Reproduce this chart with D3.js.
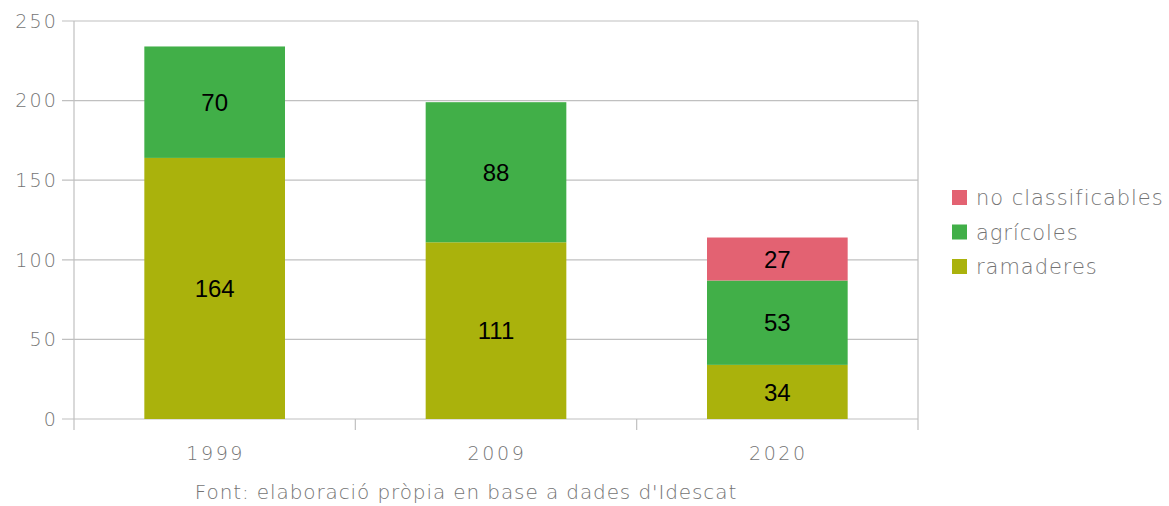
<!DOCTYPE html>
<html><head><meta charset="utf-8">
<script src="https://cdn.jsdelivr.net/npm/d3@7"></script>
<style>body{margin:0;background:#fff}svg{display:block}</style>
</head><body>
<svg id="c" width="1169" height="506"></svg>
<script>
const categories = ["1999", "2009", "2020"];
const seriesNames = ["ramaderes", "agrícoles", "no classificables"];
const ramaderes = [164, 111, 34];
const agricoles = [70, 88, 53];
const noClassificables = [0, 0, 27];
const yTicks = [0, 50, 100, 150, 200, 250];
const colors = ["#aab20c", "#41af48", "#e36272"];
const source = "Font: elaboració pròpia en base a dades d'Idescat";

const svg = d3.select("#c");
const m = {l: 74, r: 918, t: 21, b: 419};
const x = d3.scaleBand().domain(categories).range([m.l, m.r]).paddingInner(0.5).paddingOuter(0.25);
const y = d3.scaleLinear().domain([0, 250]).range([m.b, m.t]);
const gridCol = "#c0c0c0";
const textCol = "#747474";
const lightFont = "'DejaVu Sans', sans-serif";

// grid
svg.append("g").selectAll("line").data(yTicks).join("line")
  .attr("x1", m.l - 12).attr("x2", m.r).attr("y1", d => y(d)).attr("y2", d => y(d))
  .attr("stroke", gridCol).attr("stroke-width", 1.2);
svg.append("line").attr("x1", m.l).attr("x2", m.l).attr("y1", m.t).attr("y2", m.b + 11).attr("stroke", gridCol).attr("stroke-width", 1.2);
svg.append("line").attr("x1", m.r).attr("x2", m.r).attr("y1", m.t).attr("y2", m.b + 11).attr("stroke", gridCol).attr("stroke-width", 1.2);
const step = (m.r - m.l) / categories.length;
svg.append("g").selectAll("line").data(d3.range(1, categories.length)).join("line")
  .attr("x1", d => m.l + d * step).attr("x2", d => m.l + d * step)
  .attr("y1", m.b).attr("y2", m.b + 11).attr("stroke", gridCol).attr("stroke-width", 1.2);

// y tick labels
svg.append("g").selectAll("text").data(yTicks).join("text")
  .attr("x", 58).attr("y", d => y(d)).attr("dy", "0.36em").attr("text-anchor", "end")
  .attr("font-family", lightFont).attr("font-weight", 200).attr("font-size", 19).attr("fill", textCol)
  .attr("letter-spacing", 2.2)
  .text(d => d);

// x labels
svg.append("g").selectAll("text").data(categories).join("text")
  .attr("x", d => x(d) + x.bandwidth() / 2 + 1).attr("y", 460).attr("text-anchor", "middle")
  .attr("font-family", lightFont).attr("font-weight", 200).attr("font-size", 19).attr("fill", textCol)
  .attr("letter-spacing", 2.6)
  .text(d => d);

// stacked bars
const rows = categories.map((c, i) => ({cat: c, "ramaderes": ramaderes[i], "agrícoles": agricoles[i], "no classificables": noClassificables[i]}));
const stack = d3.stack().keys(seriesNames)(rows);
stack.forEach((s, si) => {
  const g = svg.append("g");
  s.forEach(d => {
    const v = d[1] - d[0];
    if (v <= 0) return;
    g.append("rect").attr("x", x(d.data.cat)).attr("width", x.bandwidth())
      .attr("y", y(d[1])).attr("height", y(d[0]) - y(d[1])).attr("fill", colors[si]);
    g.append("text").attr("x", x(d.data.cat) + x.bandwidth() / 2).attr("y", (y(d[0]) + y(d[1])) / 2)
      .attr("dy", "0.36em").attr("text-anchor", "middle")
      .attr("font-family", "'Liberation Sans', Arial, sans-serif").attr("font-size", 24).attr("fill", "#000")
      .text(v);
  });
});

// legend
const legendItems = seriesNames.map((n, i) => ({n, c: colors[i]})).reverse();
const lg = svg.append("g").selectAll("g").data(legendItems).join("g")
  .attr("transform", (d, i) => `translate(952, ${190 + i * 34.5})`);
lg.append("rect").attr("width", 15).attr("height", 15).attr("fill", d => d.c);
lg.append("text").attr("x", 24).attr("y", 7.5).attr("dy", "0.36em")
  .attr("font-family", lightFont).attr("font-weight", 200).attr("font-size", 21).attr("fill", textCol)
  .attr("letter-spacing", 0.95)
  .text(d => d.n);

// source
svg.append("text").attr("x", 466).attr("y", 499).attr("text-anchor", "middle")
  .attr("font-family", lightFont).attr("font-weight", 200).attr("font-size", 20).attr("fill", textCol)
  .attr("letter-spacing", 0.9)
  .text(source);
</script>
</body></html>
